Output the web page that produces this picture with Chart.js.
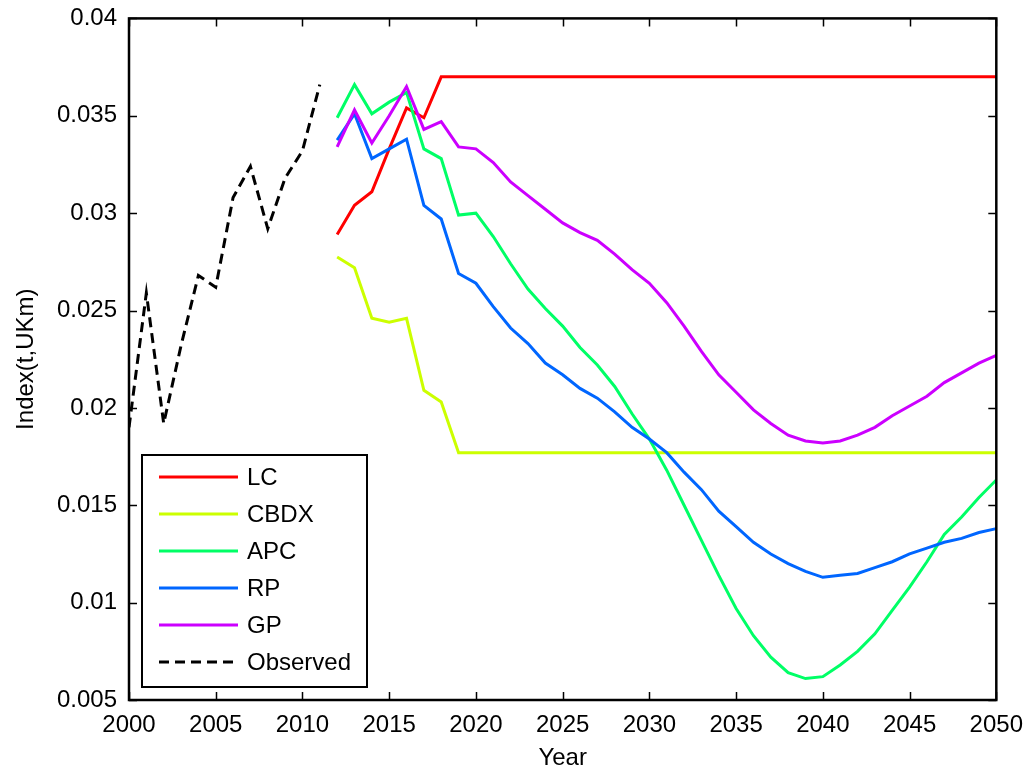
<!DOCTYPE html>
<html>
<head>
<meta charset="utf-8">
<script src="https://cdn.jsdelivr.net/npm/chart.js@4/dist/chart.umd.min.js"></script>
<style>
  html, body { margin: 0; padding: 0; background: #fff; }
  #wrap { width: 1026px; height: 770px; }
</style>
</head>
<body>
<div id="wrap"><canvas id="c" width="1026" height="770"></canvas></div>
<script>
// Observed index, 2000-2011
const observedYears = [2000, 2001, 2002, 2003, 2004, 2005, 2006, 2007, 2008, 2009, 2010, 2011];
const observed = [0.0190, 0.0259, 0.0192, 0.0232, 0.0268, 0.0262, 0.0308, 0.0324, 0.0292, 0.0318, 0.0332, 0.0366];

// Projection years, 2012-2050
const projYears = [];
for (let y = 2012; y <= 2050; y++) projYears.push(y);

const lc = [0.0289, 0.0304, 0.0311, 0.0333, 0.0354, 0.0349, 0.0370, 0.0370, 0.0370, 0.0370,
            0.0370, 0.0370, 0.0370, 0.0370, 0.0370, 0.0370, 0.0370, 0.0370, 0.0370, 0.0370,
            0.0370, 0.0370, 0.0370, 0.0370, 0.0370, 0.0370, 0.0370, 0.0370, 0.0370, 0.0370,
            0.0370, 0.0370, 0.0370, 0.0370, 0.0370, 0.0370, 0.0370, 0.0370, 0.0370];
const cbdx = [0.02775, 0.0272, 0.0246, 0.0244, 0.0246, 0.0209, 0.0203, 0.0177, 0.0177, 0.0177,
              0.0177, 0.0177, 0.0177, 0.0177, 0.0177, 0.0177, 0.0177, 0.0177, 0.0177, 0.0177,
              0.0177, 0.0177, 0.0177, 0.0177, 0.0177, 0.0177, 0.0177, 0.0177, 0.0177, 0.0177,
              0.0177, 0.0177, 0.0177, 0.0177, 0.0177, 0.0177, 0.0177, 0.0177, 0.0177];
const apc = [0.0349, 0.0366, 0.0351, 0.0357, 0.0362, 0.0333, 0.0328, 0.0299, 0.0300, 0.0288,
             0.0274, 0.0261, 0.0251, 0.0242, 0.0231, 0.0222, 0.0211, 0.0197, 0.0184, 0.0168,
             0.0150, 0.0132, 0.0114, 0.0097, 0.0083, 0.0072, 0.0064, 0.0061, 0.0062, 0.0068,
             0.0075, 0.0084, 0.0096, 0.0108, 0.0121, 0.0135, 0.0144, 0.0154, 0.0163];
const rp = [0.03375, 0.0351, 0.0328, 0.0333, 0.0338, 0.0304, 0.0297, 0.0269, 0.0264, 0.0252,
            0.0241, 0.0233, 0.0223, 0.0217, 0.0210, 0.0205, 0.0198, 0.0190, 0.0184, 0.0177,
            0.0167, 0.0158, 0.0147, 0.0139, 0.0131, 0.0125, 0.0120, 0.0116, 0.0113, 0.0114,
            0.0115, 0.0118, 0.0121, 0.0125, 0.0128, 0.0131, 0.0133, 0.0136, 0.0138];
const gp = [0.0334, 0.0353, 0.0336, 0.0350, 0.0365, 0.0343, 0.0347, 0.0334, 0.0333, 0.0326,
            0.0316, 0.0309, 0.0302, 0.0295, 0.0290, 0.0286, 0.0279, 0.0271, 0.0264, 0.0254,
            0.0242, 0.0229, 0.0217, 0.0208, 0.0199, 0.0192, 0.0186, 0.0183, 0.0182, 0.0183,
            0.0186, 0.0190, 0.0196, 0.0201, 0.0206, 0.0213, 0.0218, 0.0223, 0.0227];

// Axis ticks
const xTickValues = [2000, 2005, 2010, 2015, 2020, 2025, 2030, 2035, 2040, 2045, 2050];
const yTickValues = [0.005, 0.01, 0.015, 0.02, 0.025, 0.03, 0.035, 0.04];

const FONT = '"Liberation Sans", Arial, sans-serif';

const toPoints = (xs, ys) => xs.map((x, i) => ({ x: x, y: ys[i] }));

function lineSet(label, xs, ys, color, dash) {
  return {
    label: label,
    data: toPoints(xs, ys),
    borderColor: color,
    backgroundColor: color,
    borderWidth: 3,
    borderDash: dash || [],
    pointRadius: 0,
    tension: 0,
    fill: false
  };
}

// Later series are painted over earlier ones
const datasets = [
  lineSet('LC', projYears, lc, '#ff0000'),
  lineSet('CBDX', projYears, cbdx, '#ccff00'),
  lineSet('APC', projYears, apc, '#00ff66'),
  lineSet('RP', projYears, rp, '#0066ff'),
  lineSet('GP', projYears, gp, '#cc00ff'),
  lineSet('Observed', observedYears, observed, '#000000', [10, 6])
];
datasets.forEach((d, i) => { d.order = datasets.length - i; });

// Plot frame with inward tick marks on all four sides
const framePlugin = {
  id: 'frame',
  afterDraw(chart) {
    const { ctx, chartArea: a, scales } = chart;
    const len = 8;
    ctx.save();
    ctx.strokeStyle = '#000';
    ctx.lineWidth = 1.5;
    ctx.beginPath();
    scales.x.ticks.forEach(t => {
      const px = Math.round(scales.x.getPixelForValue(t.value)) + 0.5;
      ctx.moveTo(px, a.bottom); ctx.lineTo(px, a.bottom - len);
      ctx.moveTo(px, a.top); ctx.lineTo(px, a.top + len);
    });
    scales.y.ticks.forEach(t => {
      const py = Math.round(scales.y.getPixelForValue(t.value)) + 0.5;
      ctx.moveTo(a.left, py); ctx.lineTo(a.left + len, py);
      ctx.moveTo(a.right, py); ctx.lineTo(a.right - len, py);
    });
    ctx.stroke();
    ctx.lineWidth = 2.5;
    ctx.strokeRect(a.left, a.top, a.right - a.left, a.bottom - a.top);
    ctx.restore();
  }
};

// Boxed legend in the lower-left corner of the plot
const boxLegendPlugin = {
  id: 'boxLegend',
  afterDraw(chart) {
    const ctx = chart.ctx;
    const bx = 142, by = 455, bw = 225, bh = 232;
    const rowTop = 477, rowGap = 37;
    ctx.save();
    ctx.fillStyle = '#fff';
    ctx.fillRect(bx, by, bw, bh);
    ctx.strokeStyle = '#000';
    ctx.lineWidth = 2;
    ctx.strokeRect(bx, by, bw, bh);
    ctx.font = '24px ' + FONT;
    ctx.textBaseline = 'middle';
    ctx.textAlign = 'left';
    chart.data.datasets.forEach((d, i) => {
      const y = rowTop + i * rowGap;
      ctx.strokeStyle = d.borderColor;
      ctx.lineWidth = 3;
      ctx.setLineDash(d.borderDash || []);
      ctx.beginPath();
      ctx.moveTo(159, y);
      ctx.lineTo(238, y);
      ctx.stroke();
      ctx.setLineDash([]);
      ctx.fillStyle = '#000';
      ctx.fillText(d.label, 247, y + 1);
    });
    ctx.restore();
  }
};

Chart.defaults.color = '#000';
Chart.defaults.font.family = FONT;

new Chart(document.getElementById('c'), {
  type: 'line',
  data: { datasets: datasets },
  options: {
    responsive: false,
    animation: false,
    layout: { padding: { top: 12, right: 23, left: 0, bottom: 0 } },
    plugins: { legend: { display: false }, tooltip: { enabled: false } },
    scales: {
      x: {
        type: 'linear',
        min: 2000,
        max: 2050,
        grid: { display: false },
        border: { display: false },
        afterBuildTicks: s => { s.ticks = xTickValues.map(v => ({ value: v })); },
        afterFit: s => { s.height = 70; },
        ticks: {
          autoSkip: false,
          maxRotation: 0,
          padding: 3,
          font: { size: 24 },
          callback: v => String(v)
        },
        title: { display: true, text: 'Year', font: { size: 24 }, padding: { top: 0, bottom: -3 } }
      },
      y: {
        type: 'linear',
        min: 0.005,
        max: 0.04,
        grid: { display: false },
        border: { display: false },
        afterBuildTicks: s => { s.ticks = yTickValues.map(v => ({ value: v })); },
        afterFit: s => { s.width = 129; },
        ticks: {
          autoSkip: false,
          padding: 4,
          font: { size: 24 },
          callback: v => String(+v.toFixed(3))
        },
        title: { display: true, text: 'Index(t,UKm)', font: { size: 24 }, padding: { top: 12, bottom: 0 } }
      }
    }
  },
  plugins: [framePlugin, boxLegendPlugin]
});
</script>
</body>
</html>
